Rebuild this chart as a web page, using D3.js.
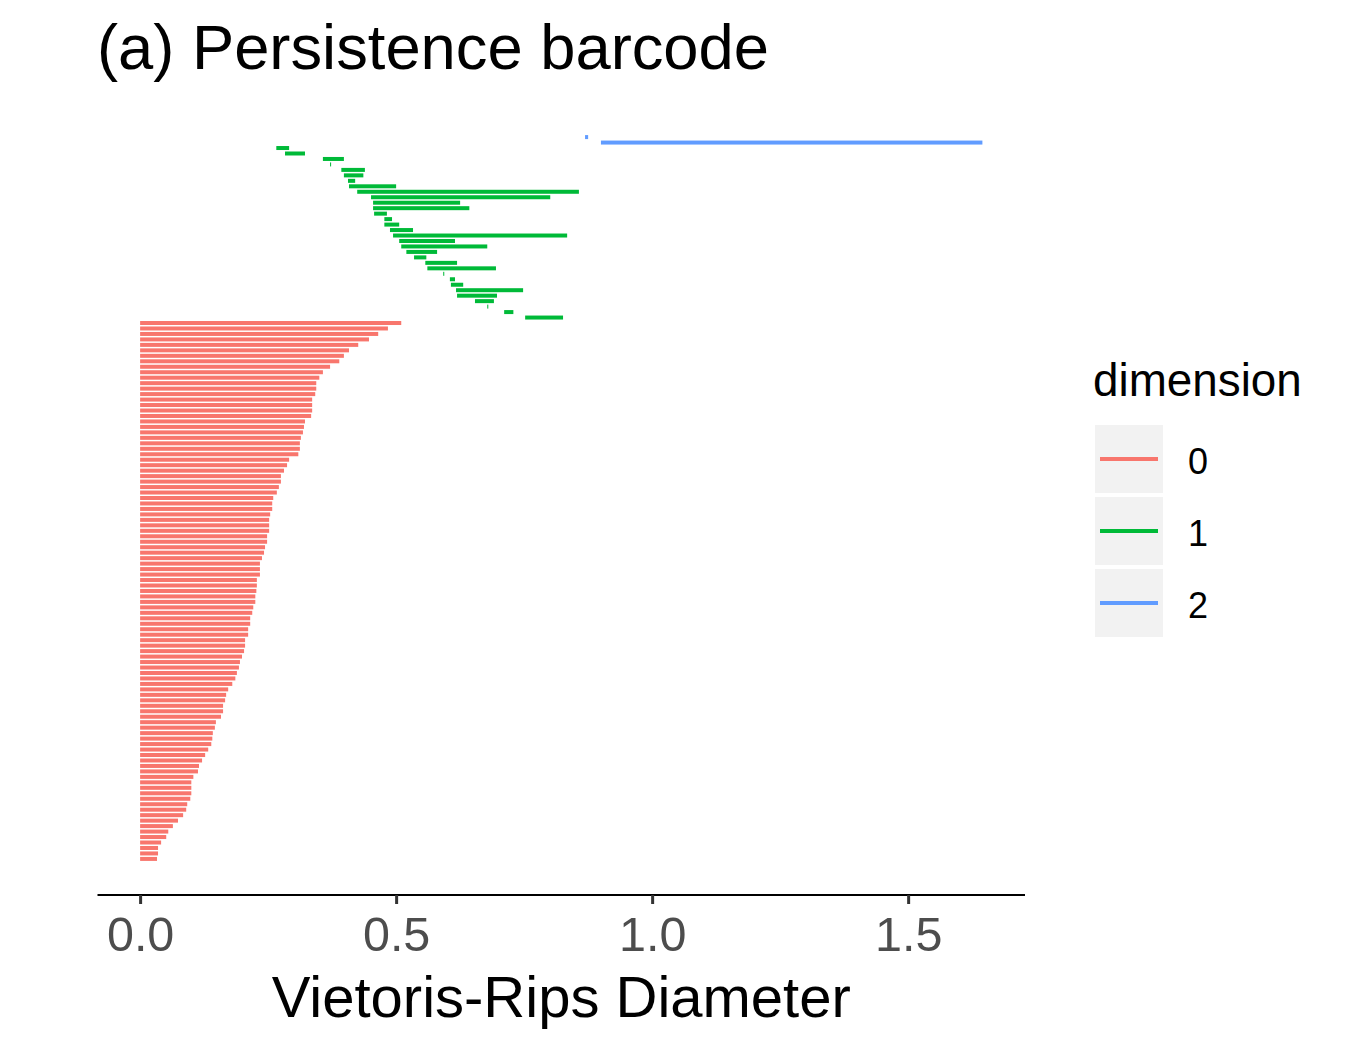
<!DOCTYPE html>
<html>
<head>
<meta charset="utf-8">
<script src="https://cdn.jsdelivr.net/npm/d3@7"></script>
<style>
    body { margin: 0; background: #fff; }
    text { font-family: 'Liberation Sans', Arial, sans-serif; }
</style>
</head>
<body>
<script>
// dimension 0 bars, top to bottom (all born at 0)
const dim0Death = [
    0.510, 0.484, 0.465, 0.447, 0.426, 0.408, 0.398, 0.389, 0.371, 0.357,
    0.350, 0.344, 0.344, 0.342, 0.336, 0.336, 0.336, 0.334, 0.322, 0.320,
    0.318, 0.314, 0.312, 0.312, 0.309, 0.291, 0.287, 0.281, 0.275, 0.275,
    0.271, 0.267, 0.260, 0.258, 0.258, 0.254, 0.252, 0.252, 0.252, 0.248,
    0.248, 0.244, 0.242, 0.238, 0.234, 0.234, 0.234, 0.228, 0.228, 0.227,
    0.225, 0.225, 0.221, 0.219, 0.215, 0.215, 0.211, 0.211, 0.205, 0.205,
    0.203, 0.199, 0.195, 0.193, 0.189, 0.186, 0.180, 0.172, 0.168, 0.166,
    0.162, 0.162, 0.158, 0.148, 0.146, 0.142, 0.141, 0.139, 0.133, 0.127,
    0.121, 0.115, 0.113, 0.104, 0.100, 0.100, 0.100, 0.098, 0.092, 0.090,
    0.084, 0.074, 0.064, 0.055, 0.051, 0.041, 0.035, 0.035, 0.033
]

// dimension 1 bars, top to bottom
const dim1Birth = [
    0.266, 0.283, 0.357, 0.371, 0.393, 0.398, 0.406, 0.408, 0.424, 0.451,
    0.455, 0.455, 0.457, 0.477, 0.477, 0.488, 0.494, 0.506, 0.510, 0.520,
    0.535, 0.557, 0.561, 0.592, 0.605, 0.607, 0.617, 0.619, 0.654, 0.678,
    0.711, 0.752
]
const dim1Death = [
    0.291, 0.322, 0.398, 0.373, 0.439, 0.436, 0.420, 0.500, 0.857, 0.801,
    0.625, 0.643, 0.482, 0.492, 0.506, 0.533, 0.834, 0.615, 0.678, 0.580,
    0.559, 0.619, 0.695, 0.594, 0.615, 0.631, 0.748, 0.697, 0.691, 0.680,
    0.729, 0.826
]

// dimension 2 bars, top to bottom
const dim2Birth = [0.869, 0.900]
const dim2Death = [0.875, 1.645]

const dimensions = ['0', '1', '2']
const xTicks = [0, 0.5, 1.0, 1.5]

const drawBarcode = () => {
    const w = 1350
    const h = 1050
    const left = 98
    const right = 1024.5
    const top = 101
    const bottom = 895

    const bars = []
    dim2Birth.forEach((b, i) => bars.push({ dim: '2', birth: b, death: dim2Death[i] }))
    dim1Birth.forEach((b, i) => bars.push({ dim: '1', birth: b, death: dim1Death[i] }))
    dim0Death.forEach(d => bars.push({ dim: '0', birth: 0, death: d }))
    const n = bars.length
    bars.forEach((d, i) => { d.idx = n - i })

    const color = d3.scaleOrdinal()
        .domain(dimensions)
        .range(['#F8766D', '#00BA38', '#619CFF'])

    const xMax = d3.max(bars, d => d.death)
    const xPad = xMax * 0.05
    const x = d3.scaleLinear()
        .domain([-xPad, xMax + xPad])
        .range([left, right])

    const yPad = (n - 1) * 0.05
    const y = d3.scaleLinear()
        .domain([1 - yPad, n + yPad])
        .range([bottom, top])

    const svg = d3.select('body').append('svg')
        .attr('width', w)
        .attr('height', h)

    svg.append('text')
        .attr('x', 97)
        .attr('y', 69)
        .attr('font-size', 63.3)
        .attr('fill', '#000')
        .text('(a) Persistence barcode')

    const barH = 4
    svg.append('g').selectAll('rect')
        .data(bars)
        .enter()
        .append('rect')
            .attr('x', d => x(d.birth))
            .attr('y', d => y(d.idx) - barH / 2)
            .attr('width', d => Math.max(1, x(d.death) - x(d.birth)))
            .attr('height', barH)
            .attr('fill', d => color(d.dim))

    const xAxis = d3.axisBottom(x)
        .tickValues(xTicks)
        .tickFormat(d3.format('.1f'))
        .tickSize(9)
        .tickPadding(13)

    const axisG = svg.append('g')
        .attr('transform', `translate(0, ${bottom})`)
        .call(xAxis)

    axisG.select('.domain')
        .attr('d', `M${left - 0.5},0H${right + 0.5}`)
        .attr('stroke', '#000')
        .attr('stroke-width', 2)
    axisG.selectAll('.tick line')
        .attr('stroke', '#333')
        .attr('stroke-width', 3)
    axisG.selectAll('.tick text')
        .attr('font-size', 48.5)
        .attr('fill', '#4D4D4D')
        .attr('font-family', "'Liberation Sans', Arial, sans-serif")

    svg.append('text')
        .attr('x', (left + right) / 2)
        .attr('y', 1017)
        .attr('text-anchor', 'middle')
        .attr('font-size', 58)
        .attr('fill', '#000')
        .text('Vietoris-Rips Diameter')

    // legend
    const legend = svg.append('g')
        .attr('id', 'legend')

    legend.append('text')
        .attr('x', 1093)
        .attr('y', 396)
        .attr('font-size', 45.8)
        .attr('fill', '#000')
        .text('dimension')

    const keys = legend.selectAll('g.key')
        .data(dimensions)
        .enter()
        .append('g')
            .attr('class', 'key')
            .attr('transform', (d, i) => `translate(1095, ${425 + i * 72})`)

    keys.append('rect')
        .attr('width', 68)
        .attr('height', 68)
        .attr('fill', '#F2F2F2')

    keys.append('line')
        .attr('x1', 5)
        .attr('x2', 63)
        .attr('y1', 34)
        .attr('y2', 34)
        .attr('stroke', d => color(d))
        .attr('stroke-width', 4)

    keys.append('text')
        .attr('x', 93)
        .attr('y', 49)
        .attr('font-size', 36)
        .attr('fill', '#000')
        .text(d => d)
}

drawBarcode()
</script>
</body>
</html>
